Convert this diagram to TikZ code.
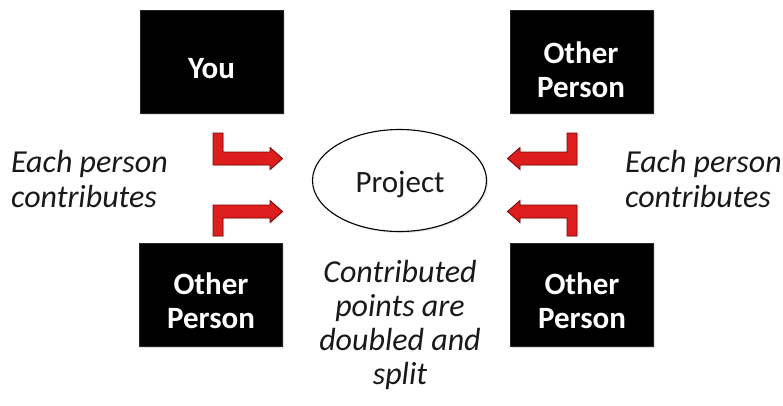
\documentclass[tikz,border=0pt]{standalone}
\usepackage{fontspec}
\setmainfont{Carlito}
\usetikzlibrary{shapes.geometric,shadows}
\definecolor{arrowred}{RGB}{222,30,28}
\definecolor{arrowdark}{RGB}{120,10,10}
\definecolor{txt}{RGB}{25,25,25}
\tikzset{
  pbox/.style={rectangle, fill=black, draw=black!85, minimum width=143pt, minimum height=103pt, inner sep=0pt,
    drop shadow={shadow xshift=1.5pt, shadow yshift=-1.5pt, opacity=0.25}},
  btext/.style={text=white, font=\fontsize{31}{34}\selectfont\bfseries, align=center, inner sep=0pt, anchor=base},
  itext/.style={text=txt, font=\fontsize{32}{35}\selectfont\itshape, inner sep=0pt, anchor=base west, align=left},
  ctext/.style={text=txt, font=\fontsize{32}{34}\selectfont\itshape, inner sep=0pt, anchor=base, align=center},
  redarrow/.style={fill=arrowred, draw=arrowdark, line width=0.9pt, line join=miter,
    drop shadow={shadow xshift=1pt, shadow yshift=-1pt, opacity=0.2}},
}
\begin{document}
\begin{tikzpicture}[x=1pt,y=-1pt]
\useasboundingbox[fill=white] (0,0) rectangle (783,405);

% boxes
\node[pbox] (you) at (211.5,61.5) {};
\node[pbox] (otr) at (582,62) {};
\node[pbox] (obl) at (211,295) {};
\node[pbox] (obr) at (582,295) {};

\node[btext] (youT) at (211.5,78) {You};
\node[btext] (otrT) at (581,97) {Other\\Person};
\node[btext] (oblT) at (211,328) {Other\\Person};
\node[btext] (obrT) at (582,328) {Other\\Person};

% project
\node[ellipse, draw=black, line width=1.1pt, fill=white, minimum width=174pt, minimum height=102pt,
  drop shadow={shadow xshift=1.5pt, shadow yshift=-1.5pt, opacity=0.2}] (proj) at (399.5,180.5) {};
\node[text=txt, font=\fontsize{31}{34}\selectfont, inner sep=0pt, anchor=base] (projT) at (400,192) {Project};

% side texts
\node[itext] (lt) at (11,207) {Each person\\contributes};
\node[itext] (rt) at (625,207) {Each person\\contributes};

% centre text
\node[ctext] (ct) at (400,384) {Contributed\\points are\\doubled and\\split};

% arrows (left)
\path[redarrow] (213,133) -- (223,133) -- (223,152) -- (270,152) -- (270,147.5) -- (282.5,158.5)
  -- (270,169.5) -- (270,165) -- (213,165) -- cycle;
\path[redarrow] (213,236) -- (223,236) -- (223,218) -- (270,218) -- (270,222.5) -- (282.5,211.5)
  -- (270,200.5) -- (270,205) -- (213,205) -- cycle;
% arrows (right)
\path[redarrow] (577,133) -- (567,133) -- (567,152) -- (520,152) -- (520,147.5) -- (507.5,158.5)
  -- (520,169.5) -- (520,165) -- (577,165) -- cycle;
\path[redarrow] (577,236) -- (567,236) -- (567,218) -- (520,218) -- (520,222.5) -- (507.5,211.5)
  -- (520,200.5) -- (520,205) -- (577,205) -- cycle;
\end{tikzpicture}
\end{document}
